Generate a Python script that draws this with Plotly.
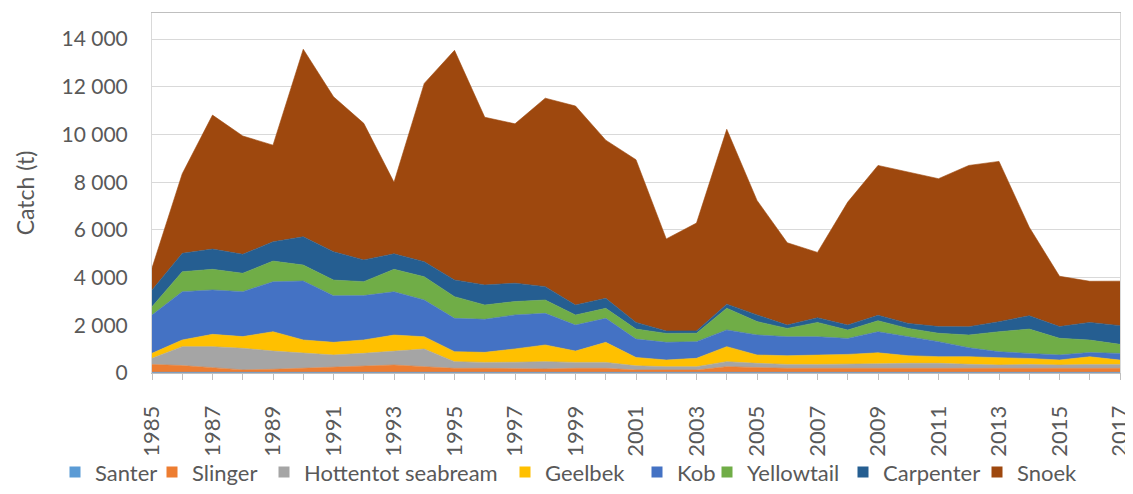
import plotly.graph_objects as go

years = list(range(1985, 2018))

santer = [30] * 33
slinger = [330, 280, 195, 100, 125, 165, 195, 250, 305, 235, 165, 165, 140, 140, 165, 165, 95,
           95, 95, 235, 195, 165, 165, 165, 195, 195, 195, 195, 195, 165, 165, 165, 165]
hottentot = [255, 795, 880, 905, 765, 630, 530, 545, 585, 740, 280, 250, 280, 305, 250, 250, 175,
             140, 140, 210, 180, 165, 165, 165, 160, 180, 180, 140, 110, 165, 140, 165, 165]
geelbek = [210, 280, 515, 490, 810, 560, 530, 560, 670, 515, 420, 420, 560, 700, 475, 840, 350,
           280, 350, 630, 350, 365, 390, 420, 460, 320, 280, 320, 305, 250, 210, 320, 180]
kob = [1605, 2025, 1860, 1885, 2095, 2470, 1955, 1860, 1815, 1540, 1395, 1385, 1425, 1325, 1090, 1005, 770,
       740, 700, 700, 840, 795, 770, 670, 885, 795, 630, 375, 250, 210, 210, 180, 280]
yellowtail = [350, 835, 865, 770, 865, 670, 655, 585, 940, 975, 910, 600, 560, 560, 420, 420, 420,
              375, 350, 910, 560, 350, 600, 350, 460, 350, 350, 530, 840, 1020, 700, 520, 380]
carpenter = [700, 770, 850, 795, 810, 1185, 1190, 910, 650, 630, 700, 840, 770, 560, 420, 420, 280,
             100, 100, 170, 280, 140, 195, 210, 230, 210, 280, 350, 420, 560, 490, 740, 785]
snoek = [920, 3340, 5615, 4960, 4050, 7860, 6495, 5725, 3000, 7475, 9625, 7030, 6680, 7900, 8340, 6630, 6820,
         3860, 4520, 7330, 4800, 3450, 2740, 5155, 6280, 6340, 6200, 6760, 6720, 3710, 2110, 1725, 1865]

names = ["Santer", "Slinger", "Hottentot seabream", "Geelbek", "Kob", "Yellowtail", "Carpenter", "Snoek"]
series = [santer, slinger, hottentot, geelbek, kob, yellowtail, carpenter, snoek]
colors = ["#5B9BD5", "#ED7D31", "#A5A5A5", "#FFC000", "#4472C4", "#70AD47", "#255E91", "#9E480E"]

font_family = "Lato, 'Open Sans', sans-serif"
grey = "#595959"

FIG_W, FIG_H = 1125, 486
# left edge (figure px) of each legend entry, one small legend per entry
legend_left = [47, 144, 256, 497, 629, 699, 835, 969]

fig = go.Figure()
for name, vals, col in zip(names, series, colors):
    fig.add_trace(go.Scatter(
        x=years, y=vals, name=name, mode="lines", stackgroup="one",
        line=dict(width=0.6, color=col), fillcolor=col,
        legendgroup=name, showlegend=False,
    ))

legend_layouts = {}
for i, (name, col) in enumerate(zip(names, colors)):
    key = "legend" if i == 0 else f"legend{i + 1}"
    fig.add_trace(go.Scatter(
        x=[None], y=[None], name=name, mode="markers",
        marker=dict(symbol="square", size=11, color=col),
        legendgroup=name, showlegend=True, legend=key,
    ))
    legend_layouts[key] = dict(
        orientation="h", xref="container", x=legend_left[i] / FIG_W, xanchor="left",
        yref="container", y=0.045, yanchor="middle",
        font=dict(size=22, color=grey), bgcolor="rgba(0,0,0,0)",
        itemwidth=30, tracegroupgap=0,
    )

fig.update_layout(
    width=FIG_W, height=FIG_H,
    margin=dict(l=144, r=13, t=5, b=121, autoexpand=False),
    paper_bgcolor="white", plot_bgcolor="white",
    separators=", ",
    font=dict(family=font_family, color=grey, size=18),
    showlegend=True,
    **legend_layouts,
)

fig.update_xaxes(
    range=[1985, 2017], tickmode="linear", tick0=1985, dtick=2,
    tickangle=-90, tickfont=dict(size=22, color=grey), ticklabelstandoff=17,
    ticklabeloverflow="allow",
    ticks="outside", ticklen=6, tickcolor="#BFBFBF",
    minor=dict(dtick=1, ticks="outside", ticklen=6, tickcolor="#BFBFBF"),
    showgrid=False, showline=True, linecolor="#BFBFBF", linewidth=1, mirror=True,
    zeroline=False,
)
fig.update_yaxes(
    range=[0, 15090], tickmode="linear", tick0=0, dtick=2000, tickformat=",d",
    tickfont=dict(size=21, color=grey), ticklabelstandoff=19,
    showgrid=True, gridcolor="#D9D9D9", gridwidth=1,
    showline=True, linecolor="#D9D9D9", linewidth=1, mirror=True,
    zeroline=False,
    title=dict(text="Catch (t)", font=dict(size=23, color=grey), standoff=20),
)

fig.write_html("out.html")
